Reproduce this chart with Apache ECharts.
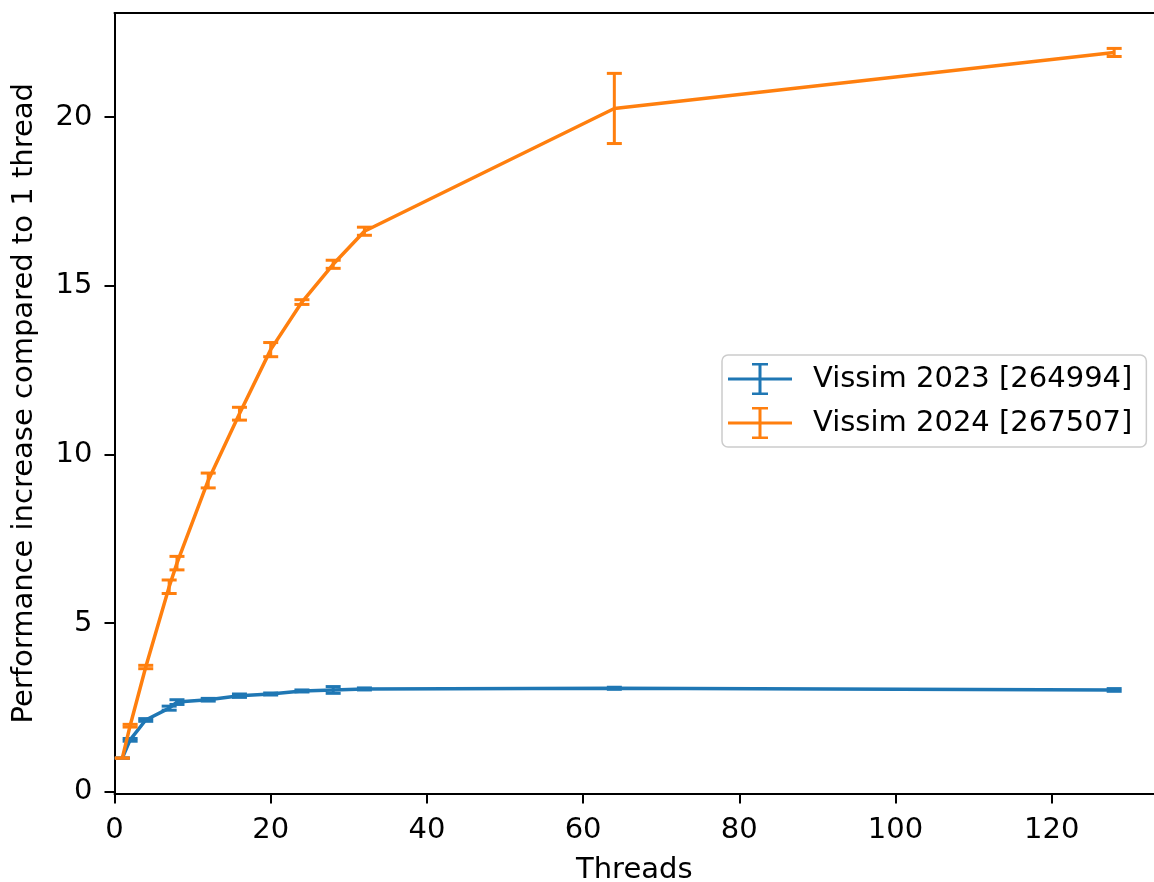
<!DOCTYPE html>
<html>
<head>
<meta charset="utf-8">
<script src="https://cdn.jsdelivr.net/npm/echarts@6/dist/echarts.min.js"></script>
<style>
  html, body { margin: 0; padding: 0; background: #fff; }
  #chart { width: 1154px; height: 882px; }
</style>
</head>
<body>
<div id="chart"></div>
<script>
// thread counts on the x axis
var threads = [1, 2, 4, 7, 8, 12, 16, 20, 24, 28, 32, 64, 128];

// Vissim 2023 [264994]
var perf2023 = [1.0, 1.54, 2.13, 2.48, 2.66, 2.73, 2.85, 2.90, 2.99, 3.02, 3.05, 3.07, 3.02];
var err2023  = [0.0, 0.04, 0.04, 0.06, 0.07, 0.04, 0.05, 0.03, 0.03, 0.10, 0.03, 0.03, 0.04];

// Vissim 2024 [267507]
var perf2024 = [1.0, 1.96, 3.70, 6.08, 6.78, 9.23, 11.21, 13.11, 14.52, 15.64, 16.62, 20.26, 21.92];
var err2024  = [0.0, 0.04, 0.05, 0.20, 0.20, 0.22, 0.19, 0.21, 0.07, 0.12, 0.12, 1.04, 0.12];

var xTicks = [0, 20, 40, 60, 80, 100, 120];
var yTicks = [0, 5, 10, 15, 20];

var BLUE = '#1f77b4', ORANGE = '#ff7f0e';
var FONT = 'DejaVu Sans';
var FS = 29;
var XMAX = 133.1;
var errIcon = 'path://M0,14.5H64V17.5H0Z M30.5,0H33.5V32H30.5Z M24,0H40V2.5H24Z M24,29.5H40V32H24Z';

function pairs(ys) {
  return threads.map(function (t, i) { return [t, ys[i]]; });
}
function triples(ys, es) {
  return threads.map(function (t, i) { return [t, ys[i], es[i]]; });
}

// vertical error bar with caps
function errBar(color) {
  return function (params, api) {
    var x = api.value(0), y = api.value(1), e = api.value(2);
    var hi = api.coord([x, y + e]), lo = api.coord([x, y - e]);
    var w = 7.5;
    var st = { stroke: color, lineWidth: 3 };
    return {
      type: 'group',
      children: [
        { type: 'line', shape: { x1: hi[0], y1: hi[1], x2: lo[0], y2: lo[1] }, style: st },
        { type: 'line', shape: { x1: hi[0] - w, y1: hi[1], x2: hi[0] + w, y2: hi[1] }, style: st },
        { type: 'line', shape: { x1: lo[0] - w, y1: lo[1], x2: lo[0] + w, y2: lo[1] }, style: st }
      ]
    };
  };
}

var chart = echarts.init(document.getElementById('chart'));
chart.setOption({
  animation: false,
  backgroundColor: '#fff',
  textStyle: { fontFamily: FONT },
  grid: { left: 114.5, right: 0, top: 13, bottom: 88.5, outerBoundsMode: 'none' },
  legend: {
    orient: 'vertical',
    left: 722, top: 355,
    padding: [8, 14, 8, 6],
    itemWidth: 64, itemHeight: 32, itemGap: 12,
    backgroundColor: 'rgba(255,255,255,0.8)',
    borderColor: '#cccccc', borderWidth: 1.5, borderRadius: 6,
    textStyle: { fontSize: FS, color: '#000', fontFamily: FONT, padding: [0, 0, 0, 16] },
    data: [
      { name: 'Vissim 2023 [264994]', icon: errIcon },
      { name: 'Vissim 2024 [267507]', icon: errIcon }
    ]
  },
  xAxis: [{
    type: 'value',
    min: 0, max: XMAX,
    name: 'Threads', nameLocation: 'middle', nameGap: 62,
    nameTextStyle: { fontSize: FS, color: '#000', fontFamily: FONT },
    splitLine: { show: false },
    axisLine: { show: true, onZero: false, lineStyle: { color: '#000', width: 2 } },
    axisTick: { show: true, length: 10, lineStyle: { color: '#000', width: 2 }, customValues: xTicks },
    axisLabel: { fontSize: FS, color: '#000', margin: 22, customValues: xTicks }
  }, {
    // top spine only
    type: 'value', position: 'top',
    min: 0, max: XMAX,
    splitLine: { show: false },
    axisLine: { show: true, onZero: false, lineStyle: { color: '#000', width: 2 } },
    axisTick: { show: false },
    axisLabel: { show: false }
  }],
  yAxis: {
    type: 'value',
    min: -0.05, max: 23.09,
    name: 'Performance increase compared to 1 thread', nameLocation: 'middle', nameGap: 76,
    nameTextStyle: { fontSize: FS, color: '#000', fontFamily: FONT },
    splitLine: { show: false },
    axisLine: { show: true, onZero: false, lineStyle: { color: '#000', width: 2 } },
    axisTick: { show: true, length: 10, lineStyle: { color: '#000', width: 2 }, customValues: yTicks },
    axisLabel: { fontSize: FS, color: '#000', margin: 22, customValues: yTicks }
  },
  series: [
    {
      name: 'Vissim 2023 [264994]', type: 'line', data: pairs(perf2023),
      color: BLUE, symbol: 'none', lineStyle: { width: 3.5, color: BLUE }, z: 2
    },
    {
      name: 'Vissim 2023 [264994]', type: 'custom', data: triples(perf2023, err2023),
      color: BLUE, renderItem: errBar(BLUE), encode: { x: 0, y: 1 }, z: 2
    },
    {
      name: 'Vissim 2024 [267507]', type: 'line', data: pairs(perf2024),
      color: ORANGE, symbol: 'none', lineStyle: { width: 3.5, color: ORANGE }, z: 3
    },
    {
      name: 'Vissim 2024 [267507]', type: 'custom', data: triples(perf2024, err2024),
      color: ORANGE, renderItem: errBar(ORANGE), encode: { x: 0, y: 1 }, z: 3
    }
  ]
});
</script>
</body>
</html>
